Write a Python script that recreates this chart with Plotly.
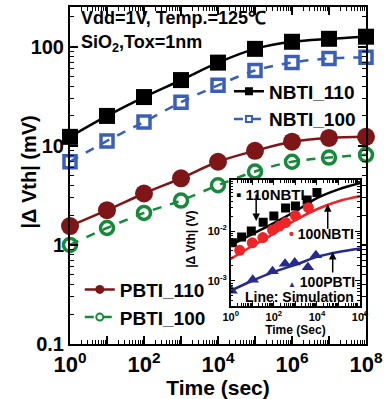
import plotly.graph_objects as go

# ---------------- data ----------------
time_main = [1e0, 1e1, 1e2, 1e3, 1e4, 1e5, 1e6, 1e7, 1e8]
nbti_110 = [12.3, 20, 31, 46, 69, 95, 112, 120, 126]
nbti_100 = [6.9, 11.2, 17.4, 27.5, 40.7, 57.5, 69, 76, 78]
pbti_110 = [1.55, 2.24, 3.3, 4.7, 6.9, 8.9, 11, 12, 12.3]
pbti_100 = [1.0, 1.48, 2.1, 2.8, 4.0, 5.5, 6.9, 7.6, 8.1]

x_tickvals = [1e0, 1e1, 1e2, 1e3, 1e4, 1e5, 1e6, 1e7, 1e8]
x_ticktext = ["10<sup>0</sup>", "", "10<sup>2</sup>", "", "10<sup>4</sup>", "",
              "10<sup>6</sup>", "", "10<sup>8</sup>"]
y_tickvals = [0.1, 1, 10, 100]
y_ticktext = ["0.1", "1", "10", "100"]

# inset (V)
in_t_110n = [1.2, 3.2, 9, 32, 100, 350, 1000, 3500, 1e4]
in_v_110n = [5.8e-3, 7.6e-3, 1.0e-2, 1.5e-2, 2.0e-2, 2.9e-2, 3.2e-2, 4.2e-2, 6.0e-2]
in_t_100n = [2.6, 10, 31, 87, 180, 350, 1000, 4000]
in_v_100n = [4.1e-3, 5.8e-3, 7.4e-3, 1.05e-2, 1.26e-2, 1.48e-2, 2.04e-2, 2.95e-2]
in_t_100p = [1.1, 10.5, 87, 330, 930, 3800, 8900]
in_v_100p = [6.3e-4, 1.05e-3, 1.55e-3, 2.19e-3, 2.34e-3, 1.86e-3, 3.24e-3]
sim_t = [1e0, 1e1, 1e2, 1e3, 1e4, 1e5, 1e6]
sim_110n = [5.2e-3, 8.7e-3, 1.45e-2, 2.5e-2, 4.6e-2, 6.9e-2, 9.3e-2]
sim_100n = [2.75e-3, 5.0e-3, 8.9e-3, 1.66e-2, 2.75e-2, 3.98e-2, 5.0e-2]
sim_100p = [6.3e-4, 1.0e-3, 1.51e-3, 2.09e-3, 3.02e-3, 3.8e-3, 4.47e-3]
in_x_tickvals = [1e0, 1e1, 1e2, 1e3, 1e4, 1e5, 1e6]
in_x_ticktext = ["10<sup>0</sup>", "", "10<sup>2</sup>", "", "10<sup>4</sup>", "", "10<sup>6</sup>"]
in_y_tickvals = [1e-3, 1e-2]
in_y_ticktext = ["10<sup>-3</sup>", "10<sup>-2</sup>"]

FONT = "Liberation Sans, Arial, sans-serif"
BLACK = "#000000"
BLUE = "#3a5fb8"
DRED = "#7e1517"
GREEN = "#17893a"
RED = "#ee2428"
NAVY = "#262a8c"

fig = go.Figure()

# main traces
def main_trace(y, color, symbol, size, dash, mlw=0):
    marker = dict(symbol=symbol, size=size, color=color,
                  line=dict(color=color, width=mlw))
    return go.Scatter(x=time_main, y=y, mode="lines+markers", showlegend=False,
                      line=dict(color=color, width=2.5, dash=dash, shape="spline"),
                      marker=marker, cliponaxis=False, xaxis="x", yaxis="y")

fig.add_trace(main_trace(nbti_110, BLACK, "square", 16, "solid"))
fig.add_trace(main_trace(nbti_100, BLUE, "square-open", 12, "dash", mlw=3.5))
fig.add_trace(main_trace(pbti_110, DRED, "circle", 18, "solid"))
fig.add_trace(main_trace(pbti_100, GREEN, "circle-open", 13, "dash", mlw=3.5))

# legend-only entries (small markers as in the reference)
def leg_trace(name, color, symbol, size, dash, legend, mlw=0):
    return go.Scatter(x=[None], y=[None], name=name, mode="lines+markers",
                      line=dict(color=color, width=2.5, dash=dash),
                      marker=dict(symbol=symbol, size=size, color=color,
                                  line=dict(color=color, width=mlw)),
                      legend=legend, xaxis="x", yaxis="y")

fig.add_trace(leg_trace("NBTI_110", BLACK, "square", 8, "solid", "legend"))
fig.add_trace(leg_trace("NBTI_100", BLUE, "square-open", 6, "dash", "legend", mlw=2))
fig.add_trace(leg_trace("PBTI_110", DRED, "circle", 9, "solid", "legend2"))
fig.add_trace(leg_trace("PBTI_100", GREEN, "circle-open", 7, "dash", "legend2", mlw=2))

# inset traces
def sim_trace(y, color):
    return go.Scatter(x=sim_t, y=y, mode="lines", showlegend=False,
                      line=dict(color=color, width=2.5, shape="spline"),
                      xaxis="x2", yaxis="y2")

fig.add_trace(sim_trace(sim_110n, BLACK))
fig.add_trace(sim_trace(sim_100n, RED))
fig.add_trace(sim_trace(sim_100p, NAVY))
fig.add_trace(go.Scatter(x=in_t_110n, y=in_v_110n, mode="markers", showlegend=False,
                         marker=dict(symbol="square", size=9, color=BLACK),
                         xaxis="x2", yaxis="y2"))
fig.add_trace(go.Scatter(x=in_t_100n, y=in_v_100n, mode="markers", showlegend=False,
                         marker=dict(symbol="circle", size=11, color=RED),
                         xaxis="x2", yaxis="y2"))
fig.add_trace(go.Scatter(x=in_t_100p, y=in_v_100p, mode="markers", showlegend=False,
                         marker=dict(symbol="triangle-up", size=11, color=NAVY),
                         xaxis="x2", yaxis="y2"))

axis_common = dict(type="log", showline=True, linecolor="black", mirror="ticks",
                   ticks="inside", tickcolor="black", showgrid=False, zeroline=False)

fig.update_layout(
    width=388, height=399,
    margin=dict(l=70, r=16, t=5, b=53),
    paper_bgcolor="white", plot_bgcolor="white",
    font=dict(family=FONT, color="black", weight="bold"),
    xaxis=dict(**axis_common, range=[0, 8], linewidth=2, ticklen=8, tickwidth=1.5,
               tickmode="array", tickvals=x_tickvals, ticktext=x_ticktext,
               ticklabeloverflow="allow",
               tickfont=dict(size=22, family=FONT, weight="bold"),
               minor=dict(ticks="inside", ticklen=4, tickwidth=1, tickcolor="black",
                          dtick="D1", showgrid=False),
               title=dict(text="Time (sec)", font=dict(size=21, family=FONT, weight="bold"),
                          standoff=2)),
    yaxis=dict(**axis_common, range=[-1, 2.4], linewidth=2, ticklen=8, tickwidth=1.5,
               tickmode="array", tickvals=y_tickvals, ticktext=y_ticktext,
               tickfont=dict(size=20, family=FONT, weight="bold"),
               minor=dict(ticks="inside", ticklen=4, tickwidth=1, tickcolor="black",
                          dtick="D1", showgrid=False)),
    xaxis2=dict(**axis_common, domain=[0.543, 0.980], anchor="y2", range=[0, 6],
                linewidth=1.5, ticklen=5, tickwidth=1,
                tickmode="array", tickvals=in_x_tickvals, ticktext=in_x_ticktext,
                ticklabeloverflow="allow",
                tickfont=dict(size=11, family=FONT, weight="bold"),
                minor=dict(ticks="inside", ticklen=3, tickwidth=0.8, tickcolor="black",
                           dtick="D1", showgrid=False),
                title=dict(text="Time (Sec)", font=dict(size=12, family=FONT, weight="bold"),
                           standoff=0)),
    yaxis2=dict(**axis_common, domain=[0.114, 0.487], anchor="x2", range=[-3.5, -0.97],
                linewidth=1.5, ticklen=5, tickwidth=1,
                tickmode="array", tickvals=in_y_tickvals, ticktext=in_y_ticktext,
                tickfont=dict(size=11, family=FONT, weight="bold"),
                minor=dict(ticks="inside", ticklen=3, tickwidth=0.8, tickcolor="black",
                           dtick="D1", showgrid=False)),
    legend=dict(x=0.537, y=0.708, xanchor="left", yanchor="middle",
                bgcolor="rgba(0,0,0,0)", font=dict(size=19, family=FONT, weight="bold"),
                itemclick=False, tracegroupgap=0),
    legend2=dict(x=0.033, y=0.120, xanchor="left", yanchor="middle",
                 bgcolor="rgba(0,0,0,0)", font=dict(size=19, family=FONT, weight="bold"),
                 itemclick=False, tracegroupgap=0),
)

ann_font = dict(family=FONT, weight="bold", color="black")
# axis titles placed as rotated annotations
fig.add_annotation(xref="paper", yref="paper", x=-0.137, y=0.51, xanchor="center", yanchor="middle",
                   text="|Δ Vth| (mV)", textangle=-90, showarrow=False, font=dict(size=20, **ann_font))
fig.add_annotation(xref="paper", yref="paper", x=0.411, y=0.311, xanchor="center", yanchor="middle",
                   text="|Δ Vth| (V)", textangle=-90, showarrow=False, font=dict(size=12, **ann_font))

fig.add_annotation(xref="paper", yref="paper", x=0.03, y=0.968, xanchor="left", yanchor="middle",
                   text="Vdd=1V, Temp.=125℃", showarrow=False, font=dict(size=18, **ann_font))
fig.add_annotation(xref="paper", yref="paper", x=0.03, y=0.891, xanchor="left", yanchor="middle",
                   text="SiO<sub>2</sub>,Tox=1nm", showarrow=False, font=dict(size=18, **ann_font))

# inset labels with arrows
fig.add_annotation(xref="x2", yref="y2", x=0.15, y=-1.27, xanchor="left", yanchor="middle",
                   text="▪ 110NBTI", showarrow=False, font=dict(size=15, **ann_font))
fig.add_annotation(xref="x2", yref="y2", x=1.18, y=-1.8, ax=0, ay=-28,
                   showarrow=True, arrowhead=2, arrowsize=1, arrowwidth=1.5, arrowcolor="black", text="")
fig.add_annotation(xref="x2", yref="y2", x=2.6, y=-2.06, xanchor="left", yanchor="middle",
                   text="<span style='color:%s'>•</span> 100NBTI" % RED, showarrow=False,
                   font=dict(size=14, **ann_font))
fig.add_annotation(xref="x2", yref="y2", x=4.5, y=-1.46, ax=0, ay=26,
                   showarrow=True, arrowhead=2, arrowsize=1, arrowwidth=1.5, arrowcolor="black", text="")
fig.add_annotation(xref="x2", yref="y2", x=2.55, y=-3.02, xanchor="left", yanchor="middle",
                   text="<span style='color:%s;font-size:8px'>▲</span> 100PBTI" % NAVY, showarrow=False,
                   font=dict(size=14, **ann_font))
fig.add_annotation(xref="x2", yref="y2", x=4.73, y=-2.42, ax=0, ay=22,
                   showarrow=True, arrowhead=2, arrowsize=1, arrowwidth=1.5, arrowcolor="black", text="")
fig.add_annotation(xref="x2", yref="y2", x=3.2, y=-3.32, xanchor="center", yanchor="middle",
                   text="Line: Simulation", showarrow=False, font=dict(size=14, **ann_font))

fig.write_html("out.html")
